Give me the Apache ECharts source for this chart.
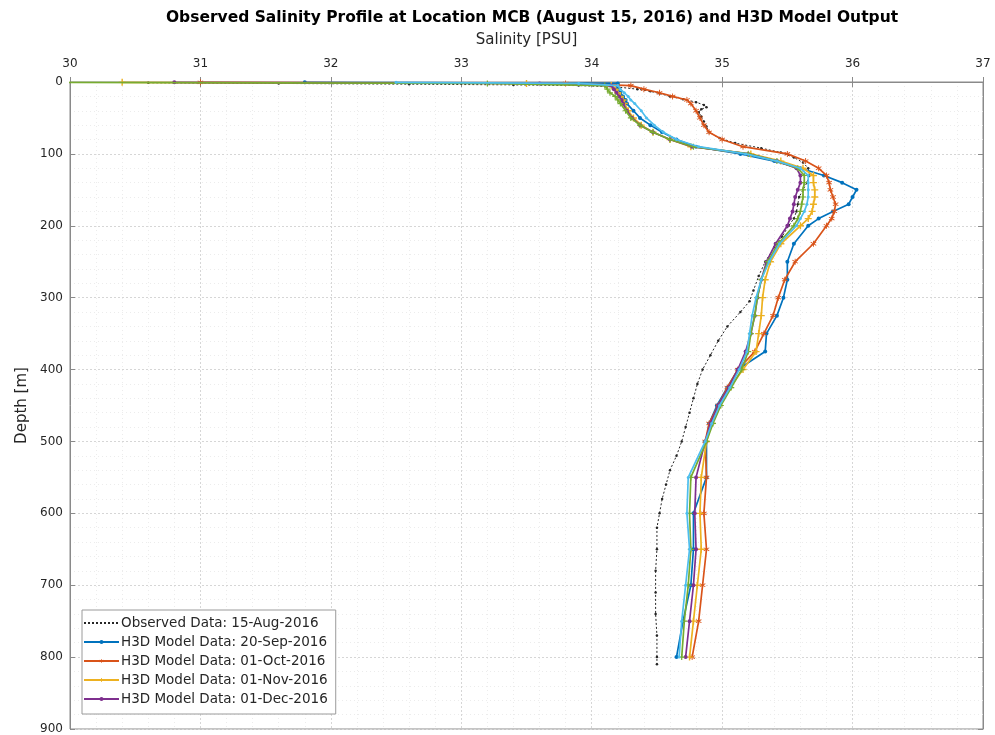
<!DOCTYPE html>
<html><head><meta charset="utf-8">
<script src="https://cdn.jsdelivr.net/npm/echarts@6/dist/echarts.min.js"></script>
<style>html,body{margin:0;padding:0;background:#fff}#c{width:995px;height:735px}</style>
</head><body><div id="c"></div>
<script>
// ---------- data ----------
const titleText = 'Observed Salinity Profile at Location MCB (August 15, 2016) and H3D Model Output';
const xName = 'Salinity [PSU]';
const yName = 'Depth [m]';
const xTicks = [30, 31, 32, 33, 34, 35, 36, 37];
const yTicks = [0, 100, 200, 300, 400, 500, 600, 700, 800, 900];

const seriesNames = [
  'Observed Data: 15-Aug-2016',
  'H3D Model Data: 20-Sep-2016',
  'H3D Model Data: 01-Oct-2016',
  'H3D Model Data: 01-Nov-2016',
  'H3D Model Data: 01-Dec-2016',
  'H3D Model Data: 01-Jan-2017',
  'H3D Model Data: 01-Feb-2017'
];

const obsDepth = [1, 2, 3, 4, 5, 7, 10, 13, 16, 20, 24, 28, 32, 35, 38, 42, 48, 55, 62, 70, 78, 85, 92, 98, 105, 112, 120, 130, 140, 150, 160, 170, 180, 190, 200, 215, 230, 250, 270, 290, 305, 320, 340, 360, 380, 400, 420, 440, 460, 480, 500, 520, 540, 560, 580, 600, 620, 650, 680, 710, 740, 770, 800, 810];
const obsSal = [30.6, 31.6, 32.6, 33.4, 33.9, 34.2, 34.35, 34.45, 34.52, 34.6, 34.7, 34.8, 34.86, 34.88, 34.84, 34.82, 34.84, 34.86, 34.88, 34.9, 34.98, 35.1, 35.3, 35.45, 35.55, 35.62, 35.66, 35.67, 35.65, 35.62, 35.59, 35.58, 35.57, 35.55, 35.51, 35.46, 35.4, 35.33, 35.28, 35.24, 35.21, 35.14, 35.04, 34.97, 34.91, 34.85, 34.81, 34.78, 34.75, 34.72, 34.69, 34.65, 34.6, 34.57, 34.54, 34.52, 34.5, 34.5, 34.49, 34.49, 34.49, 34.5, 34.5, 34.5];

const modelDepth = [0.5, 2, 5, 10, 15, 20, 25, 30, 40, 50, 60, 70, 80, 90, 100, 110, 120, 130, 140, 150, 160, 170, 180, 190, 200, 225, 250, 275, 300, 325, 350, 375, 400, 425, 450, 475, 500, 550, 600, 650, 700, 750, 800];

const salSep = [31.8, 34.2, 34.2, 34.2, 34.22, 34.24, 34.26, 34.27, 34.32, 34.37, 34.45, 34.54, 34.65, 34.8, 35.14, 35.4, 35.6, 35.78, 35.92, 36.03, 36.0, 35.97, 35.85, 35.74, 35.66, 35.55, 35.5, 35.5, 35.47, 35.42, 35.34, 35.33, 35.12, 35.04, 34.96, 34.9, 34.88, 34.88, 34.78, 34.78, 34.76, 34.7, 34.65];
const salOct = [31.0, 33.8, 34.3, 34.4, 34.52, 34.62, 34.73, 34.76, 34.8, 34.83, 34.86, 34.9, 35.0, 35.16, 35.5, 35.64, 35.74, 35.8, 35.82, 35.83, 35.85, 35.87, 35.86, 35.84, 35.8, 35.7, 35.56, 35.48, 35.43, 35.39, 35.32, 35.25, 35.12, 35.04, 34.97, 34.9, 34.87, 34.88, 34.86, 34.88, 34.85, 34.82, 34.77];
const salNov = [30.4, 33.5, 34.15, 34.18, 34.2, 34.22, 34.24, 34.25, 34.28, 34.32, 34.38, 34.47, 34.6, 34.76, 35.22, 35.45, 35.62, 35.7, 35.7, 35.71, 35.71, 35.7, 35.69, 35.66, 35.6, 35.45, 35.37, 35.33, 35.31, 35.3, 35.28, 35.26, 35.16, 35.06, 34.98, 34.92, 34.88, 34.84, 34.83, 34.84, 34.81, 34.78, 34.75];
const salDec = [30.8, 33.6, 34.15, 34.17, 34.19, 34.21, 34.23, 34.24, 34.27, 34.31, 34.37, 34.47, 34.6, 34.77, 35.2, 35.42, 35.57, 35.6, 35.6, 35.58, 35.56, 35.55, 35.54, 35.52, 35.5, 35.41, 35.34, 35.3, 35.27, 35.25, 35.22, 35.18, 35.12, 35.05, 34.97, 34.91, 34.87, 34.8, 34.79, 34.8, 34.78, 34.75, 34.72];
const salJan = [29.8, 33.2, 34.1, 34.12, 34.14, 34.18, 34.2, 34.22, 34.26, 34.3, 34.37, 34.47, 34.6, 34.78, 35.2, 35.42, 35.58, 35.63, 35.63, 35.62, 35.62, 35.61, 35.6, 35.58, 35.55, 35.43, 35.35, 35.3, 35.27, 35.25, 35.22, 35.2, 35.15, 35.07, 34.99, 34.93, 34.88, 34.76, 34.75, 34.76, 34.74, 34.71, 34.69];
const salFeb = [32.5, 33.9, 34.2, 34.22, 34.25, 34.28, 34.3, 34.33, 34.38, 34.42, 34.48, 34.55, 34.65, 34.82, 35.18, 35.42, 35.6, 35.66, 35.66, 35.66, 35.66, 35.65, 35.63, 35.6, 35.57, 35.44, 35.36, 35.3, 35.26, 35.23, 35.21, 35.19, 35.13, 35.06, 34.98, 34.92, 34.87, 34.74, 34.73, 34.75, 34.72, 34.69, 34.67];

// ---------- chart ----------
const colors = ['#262626', '#0072BD', '#D95319', '#EDB120', '#7E2F8E', '#77AC30', '#4DBEEE'];
const pair = (sal, dep) => sal.map((s, i) => [s, dep[i]]);
const plusPath = 'path://M4,0h2v4h4v2h-4v4h-2v-4h-4v-2h4z';
const starPath = 'path://M4.3,0h1.4v3.6l3.2-1.8l0.7,1.2l-3.2,1.9l3.2,1.9l-0.7,1.2l-3.2,-1.8v3.6h-1.4v-3.6l-3.2,1.8l-0.7,-1.2l3.2,-1.9l-3.2,-1.9l0.7,-1.2l3.2,1.8z';

const modelSets = [salSep, salOct, salNov, salDec, salJan, salFeb];
const symbols = ['circle', starPath, plusPath, 'circle', plusPath, 'circle'];
const symSizes = [4, 6, 7, 4, 6, 3];

const series = [{
  name: seriesNames[0], type: 'line', data: pair(obsSal, obsDepth),
  xAxisIndex: 0, yAxisIndex: 0,
  lineStyle: {color: colors[0], width: 1, type: [2, 2]},
  itemStyle: {color: colors[0]}, symbol: 'circle', symbolSize: 2.5, showSymbol: true,
  z: 2, animation: false
}];
modelSets.forEach((arr, k) => {
  series.push({
    name: seriesNames[k + 1], type: 'line', data: pair(arr, modelDepth),
    xAxisIndex: 0, yAxisIndex: 0,
    lineStyle: {color: colors[k + 1], width: 1.7},
    itemStyle: {color: colors[k + 1]}, symbol: symbols[k], symbolSize: symSizes[k], showSymbol: true,
    z: 3 + k, animation: false
  });
});

const FONT = 'DejaVu Sans';
const gridLine = {show: true, lineStyle: {color: '#d6d6d6', type: [2, 2], width: 1}};
const minorGridLine = {show: true, lineStyle: {color: '#ececec', type: [1, 3], width: 1}};
const axisCol = '#8a8a8a';
const labelStyle = {color: '#262626', fontSize: 12, fontFamily: FONT};

const legendData = seriesNames.slice(0, 5).map((n, i) => i === 0 ? {name: n, itemStyle: {opacity: 0}} : {name: n});

const chart = echarts.init(document.getElementById('c'), null, {renderer: 'canvas'});
chart.setOption({
  animation: false,
  backgroundColor: '#fff',
  textStyle: {fontFamily: FONT},
  title: {
    text: titleText, left: 527, top: 5, textAlign: 'center',
    textStyle: {fontSize: 15.5, fontWeight: 'bold', color: '#000', fontFamily: FONT}
  },
  grid: {left: 70, right: 12, top: 82, bottom: 5, show: true, borderColor: axisCol, borderWidth: 1, backgroundColor: 'transparent'},
  legend: {
    data: legendData, orient: 'vertical', left: 82, top: 610,
    itemWidth: 35, itemHeight: 5, itemGap: 3,
    backgroundColor: '#fff', borderColor: '#9a9a9a', borderWidth: 1, borderRadius: 0,
    padding: [5, 8, 7, 1],
    textStyle: {fontSize: 13.5, lineHeight: 16, color: '#262626', fontFamily: FONT, padding: [0, 0, 0, -3]}
  },
  xAxis: [{
    type: 'value', position: 'top', min: xTicks[0], max: xTicks[xTicks.length - 1], interval: 1,
    name: xName, nameLocation: 'middle', nameGap: 34.5,
    nameTextStyle: {fontSize: 15, color: '#262626', fontFamily: FONT},
    axisLine: {show: true, lineStyle: {color: axisCol}},
    axisTick: {show: true, inside: true, length: 5, lineStyle: {color: axisCol}},
    axisLabel: Object.assign({margin: 12}, labelStyle),
    splitLine: gridLine,
    minorTick: {show: false, splitNumber: 5},
    minorSplitLine: minorGridLine
  }, {
    type: 'value', position: 'bottom', min: xTicks[0], max: xTicks[xTicks.length - 1], interval: 1,
    axisLine: {show: true, lineStyle: {color: axisCol}},
    axisTick: {show: true, inside: true, length: 5, lineStyle: {color: axisCol}},
    axisLabel: {show: false}, splitLine: {show: false}
  }],
  yAxis: [{
    type: 'value', inverse: true, min: yTicks[0], max: yTicks[yTicks.length - 1], interval: 100,
    name: yName, nameLocation: 'middle', nameGap: 40.5,
    nameTextStyle: {fontSize: 15, color: '#262626', fontFamily: FONT},
    axisLine: {show: true, lineStyle: {color: axisCol}},
    axisTick: {show: true, inside: true, length: 5, lineStyle: {color: axisCol}},
    axisLabel: Object.assign({margin: 7}, labelStyle),
    splitLine: gridLine,
    minorTick: {show: false, splitNumber: 5},
    minorSplitLine: minorGridLine
  }, {
    type: 'value', position: 'right', inverse: true, min: yTicks[0], max: yTicks[yTicks.length - 1], interval: 100,
    axisLine: {show: true, lineStyle: {color: axisCol}},
    axisTick: {show: true, inside: true, length: 5, lineStyle: {color: axisCol}},
    axisLabel: {show: false}, splitLine: {show: false}
  }],
  series: series
});
</script>
</body></html>
